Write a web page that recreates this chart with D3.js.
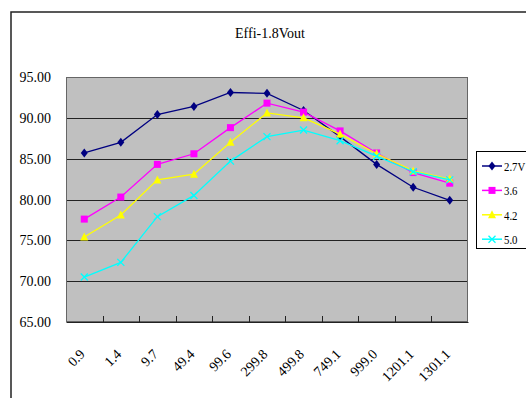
<!DOCTYPE html>
<html><head><meta charset="utf-8">
<script src="https://cdn.jsdelivr.net/npm/d3@7"></script>
<style>body{margin:0;background:#fff;overflow:hidden}svg{display:block}text{font-family:"Liberation Serif","DejaVu Serif",serif;fill:#000}</style>
</head><body>
<script>
const categories = ["0.9","1.4","9.7","49.4","99.6","299.8","499.8","749.1","999.0","1201.1","1301.1"];
const seriesNames = ["2.7V","3.6","4.2","5.0"];
const v27 = [85.7,87.0,90.4,91.4,93.1,93.0,90.9,87.7,84.3,81.5,79.9];
const v36 = [77.6,80.3,84.3,85.6,88.8,91.8,90.7,88.4,85.7,83.3,82.0];
const v42 = [75.4,78.1,82.4,83.1,87.0,90.6,90.0,88.0,85.6,83.5,82.5];
const v50 = [70.5,72.3,77.9,80.5,84.7,87.7,88.5,87.2,85.3,83.4,82.4];
const yTicks = [65,70,75,80,85,90,95];
const colors = ["#000080","#FF00FF","#FFFF00","#00FFFF"];
const markers = ["diamond","square","triangle","x"];
const series = [v27,v36,v42,v50];

const W=526,H=398;
const svg=d3.select("body").append("svg").attr("width",W).attr("height",H);
svg.append("rect").attr("x",11).attr("y",12).attr("width",560).attr("height",450)
  .attr("fill","#fff").attr("stroke","#222").attr("stroke-width",1.5);
svg.append("text").attr("x",270).attr("y",38).attr("text-anchor","middle")
  .attr("font-size",14).attr("font-family","Liberation Serif").text("Effi-1.8Vout");

const L=66,R=468,T=77,B=322;
const x=d3.scaleBand().domain(categories).range([L,R]);
const y=d3.scaleLinear().domain([65,95]).range([B,T]);

svg.append("rect").attr("x",L).attr("y",T).attr("width",R-L).attr("height",B-T).attr("fill","#C0C0C0");
svg.append("g").selectAll("line").data(yTicks.filter(d=>d>65&&d<95)).join("line")
  .attr("x1",L).attr("x2",R).attr("y1",d=>Math.round(y(d))+0.5).attr("y2",d=>Math.round(y(d))+0.5)
  .attr("stroke","#222").attr("stroke-width",1);
svg.append("rect").attr("x",L+0.5).attr("y",T+0.5).attr("width",R-L-1).attr("height",B-T-1)
  .attr("fill","none").attr("stroke","#666").attr("stroke-width",1);

svg.append("g").selectAll("text").data(yTicks).join("text")
  .attr("x",51).attr("y",d=>y(d)+5).attr("text-anchor","end").attr("font-size",14)
  .text(d=>d.toFixed(2));

const xa=svg.append("g").attr("transform",`translate(0,${B})`)
  .call(d3.axisBottom(x).tickSize(0).tickFormat(""));
xa.select(".domain").attr("stroke","#222");
svg.append("g").selectAll("line").data(categories.slice(1)).join("line")
  .attr("x1",d=>Math.round(x(d))+0.5).attr("x2",d=>Math.round(x(d))+0.5)
  .attr("y1",B-6).attr("y2",B).attr("stroke","#222");
svg.append("g").selectAll("text").data(categories).join("text")
  .attr("font-size",14).attr("text-anchor","end")
  .attr("transform",d=>`translate(${x(d)+x.bandwidth()/2+1.5},${B+33}) rotate(-45)`)
  .text(d=>d);

function marker(g,type,color,cx,cy){
  if(type==="diamond") g.append("path").attr("d",`M${cx},${cy-4.5}L${cx+3.5},${cy}L${cx},${cy+4.5}L${cx-3.5},${cy}Z`).attr("fill",color);
  else if(type==="square") g.append("rect").attr("x",cx-3.5).attr("y",cy-3.5).attr("width",7).attr("height",7).attr("fill",color);
  else if(type==="triangle") g.append("path").attr("d",`M${cx},${cy-4.5}L${cx+4},${cy+3.5}L${cx-4},${cy+3.5}Z`).attr("fill",color);
  else g.append("path").attr("d",`M${cx-3.5},${cy-3.5}L${cx+3.5},${cy+3.5}M${cx+3.5},${cy-3.5}L${cx-3.5},${cy+3.5}`).attr("stroke",color).attr("stroke-width",1.3);
}
const line=d3.line().x((d,i)=>x(categories[i])+x.bandwidth()/2).y(d=>y(d));
series.forEach((s,k)=>{
  const g=svg.append("g");
  g.append("path").attr("d",line(s)).attr("fill","none").attr("stroke",colors[k]).attr("stroke-width",1.3);
  s.forEach((v,i)=>marker(g,markers[k],colors[k],x(categories[i])+x.bandwidth()/2,y(v)));
});

svg.append("rect").attr("x",476.5).attr("y",151.5).attr("width",80).attr("height",97)
  .attr("fill","#fff").attr("stroke","#000");
seriesNames.forEach((n,k)=>{
  const ly=166+k*24.4;
  const g=svg.append("g");
  g.append("line").attr("x1",482).attr("x2",502).attr("y1",ly).attr("y2",ly).attr("stroke",colors[k]).attr("stroke-width",1.5);
  marker(g,markers[k],colors[k],492,ly);
  g.append("text").attr("font-size",13.5)
    .attr("transform",`translate(504,${ly+5}) scale(0.8,1)`).text(n);
});
</script>
</body></html>
